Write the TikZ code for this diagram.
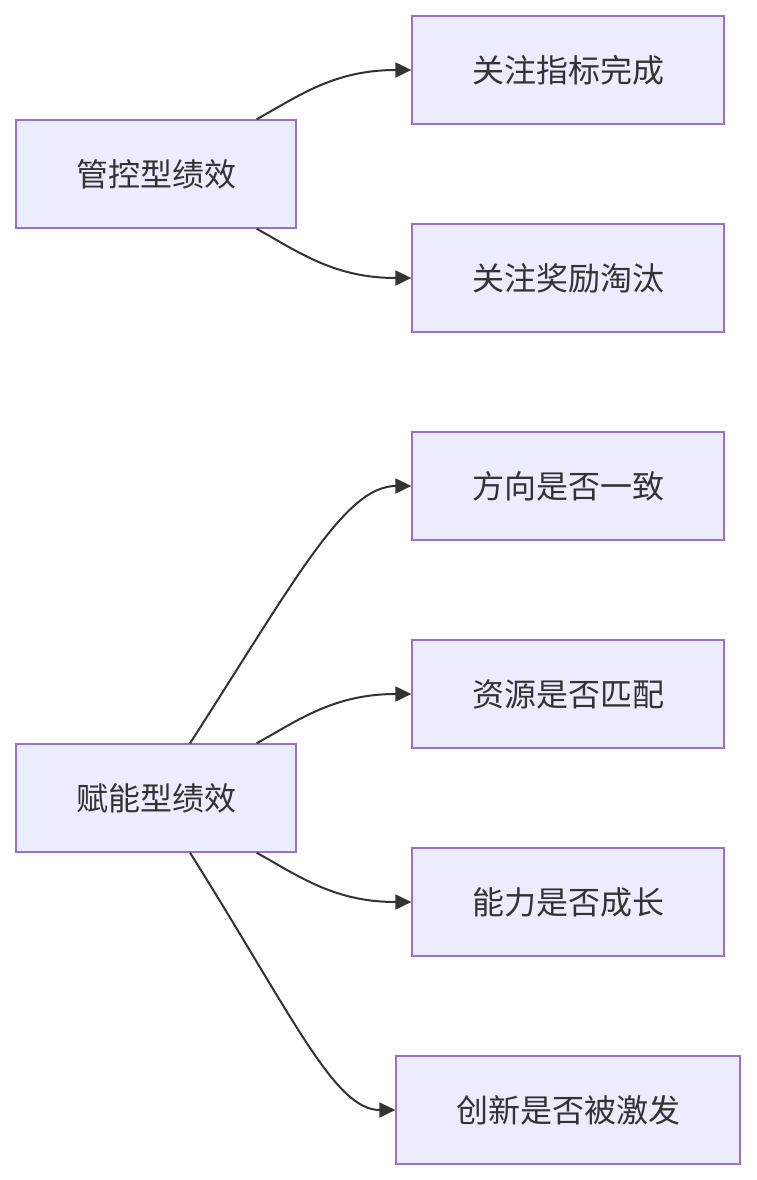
\documentclass[tikz,border=0pt]{standalone}
\usepackage{fontspec}
\newfontfamily\cjk{Noto Sans CJK SC}
\usetikzlibrary{arrows.meta}
\definecolor{nodefill}{HTML}{ECECFF}
\definecolor{nodeline}{HTML}{9370DB}
\definecolor{ink}{HTML}{333333}
\begin{document}
\begin{tikzpicture}[x=1pt,y=-1pt,
  box/.style={draw=nodeline,fill=nodefill,line width=1.3pt,minimum height=108pt,inner sep=0pt,text=ink,font=\cjk\fontsize{32}{38}\selectfont},
  link/.style={draw=ink,line width=2pt,-{Triangle[length=16pt,width=15pt]}}]
\useasboundingbox (0,0) rectangle (756,1180);
\node[box,minimum width=280pt] (g) at (156,174) {管控型绩效};
\node[box,minimum width=312pt] (a1) at (568,70) {关注指标完成};
\node[box,minimum width=312pt] (a2) at (568,278) {关注奖励淘汰};
\node[box,minimum width=312pt] (b1) at (568,486) {方向是否一致};
\node[box,minimum width=312pt] (b2) at (568,694) {资源是否匹配};
\node[box,minimum width=280pt] (f) at (156,798) {赋能型绩效};
\node[box,minimum width=312pt] (b3) at (568,902) {能力是否成长};
\node[box,minimum width=344pt] (b4) at (568,1110) {创新是否被激发};
\draw[link] ([xshift=-40pt]g.north east) .. controls (300,95) and (335,70) .. (a1.west);
\draw[link] ([xshift=-40pt]g.south east) .. controls (300,253) and (335,278) .. (a2.west);
\draw[link] ([xshift=34pt]f.north) .. controls (295,580) and (345,486) .. (b1.west);
\draw[link] ([xshift=-40pt]f.north east) .. controls (300,719) and (335,694) .. (b2.west);
\draw[link] ([xshift=-40pt]f.south east) .. controls (300,877) and (335,902) .. (b3.west);
\draw[link] ([xshift=34pt]f.south) .. controls (295,1020) and (335,1110) .. (b4.west);
\end{tikzpicture}
\end{document}
